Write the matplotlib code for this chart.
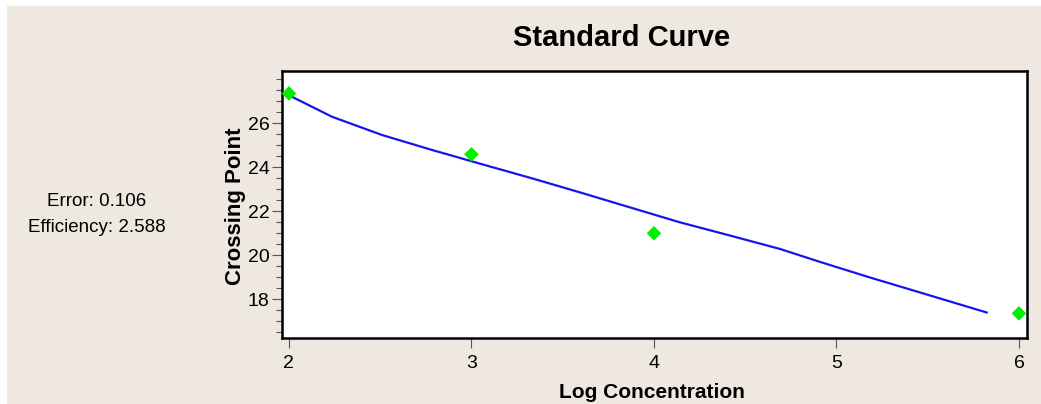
import matplotlib
matplotlib.use("Agg")
import matplotlib.pyplot as plt
from matplotlib.patches import Rectangle
from matplotlib.ticker import MultipleLocator

# Data
log_conc = [2, 3, 4, 6]
crossing_pt = [27.36, 24.59, 21.0, 17.36]
fit_x = [2.0, 2.016, 2.236, 2.510, 2.784, 3.058, 3.332, 3.595, 3.868, 4.142, 4.416, 4.690, 4.910,
         5.184, 5.458, 5.823]
fit_y = [27.27, 27.21, 26.30, 25.47, 24.79, 24.14, 23.50, 22.86, 22.18, 21.50, 20.90, 20.29, 19.70,
         18.99, 18.31, 17.40]
x_ticks = [2, 3, 4, 5, 6]
y_ticks = [18, 20, 22, 24, 26]
error_text = "Error: 0.106"
eff_text = "Efficiency: 2.588"

font = "Liberation Sans"

W, H = 1041, 404
fig = plt.figure(figsize=(W / 100, H / 100), dpi=100, facecolor="white")
bg = "#EEE8E0"
fig.patches.append(Rectangle((7 / W, 0), 1, (H - 6) / H, transform=fig.transFigure,
                             facecolor=bg, edgecolor="none", zorder=-10))

ax = fig.add_axes([282 / W, (H - 338) / H, 745 / W, 267 / H])
ax.set_facecolor("white")
ax.plot(fit_x, fit_y, color="#1515EE", lw=1.6, zorder=2)
ax.scatter(log_conc, crossing_pt, marker="D", s=55, color="#00EE00", edgecolors="none", zorder=3,
           clip_on=False)

ax.set_xlim(1.962, 6.044)
ax.set_ylim(16.24, 28.38)
ax.set_xticks(x_ticks)
ax.set_yticks(y_ticks)
ax.yaxis.set_minor_locator(MultipleLocator(0.5))
ax.tick_params(axis="both", which="major", length=7, width=0.8, color="#555555",
               labelsize=14, pad=2)
ax.tick_params(axis="x", which="major", pad=5)
ax.tick_params(axis="y", which="minor", length=4, width=0.8, color="#555555")
for lab in ax.get_xticklabels() + ax.get_yticklabels():
    lab.set_fontfamily(font)
for sp in ax.spines.values():
    sp.set_linewidth(1.8)
    sp.set_color("black")

ax.set_xlabel("Log Concentration", fontsize=15, fontweight="bold", family=font)
ax.xaxis.label.set_va("center")
ax.xaxis.set_label_coords(0.497, (338 - 392) / 267)
ax.set_ylabel("Crossing Point", fontsize=16, fontweight="bold", family=font)
ax.yaxis.label.set_va("center")
ax.yaxis.set_label_coords((235 - 282) / 745, (338 - 206) / 267)

fig.text(622 / W, 1 - 38 / H, "Standard Curve", ha="center", va="center",
         fontsize=21, fontweight="bold", family=font)
fig.text(97 / W, 1 - 202 / H, error_text, ha="center", va="center", fontsize=13.5, family=font)
fig.text(97 / W, 1 - 228 / H, eff_text, ha="center", va="center", fontsize=13.5, family=font)

fig.savefig("out.png", dpi=100, facecolor=fig.get_facecolor())
